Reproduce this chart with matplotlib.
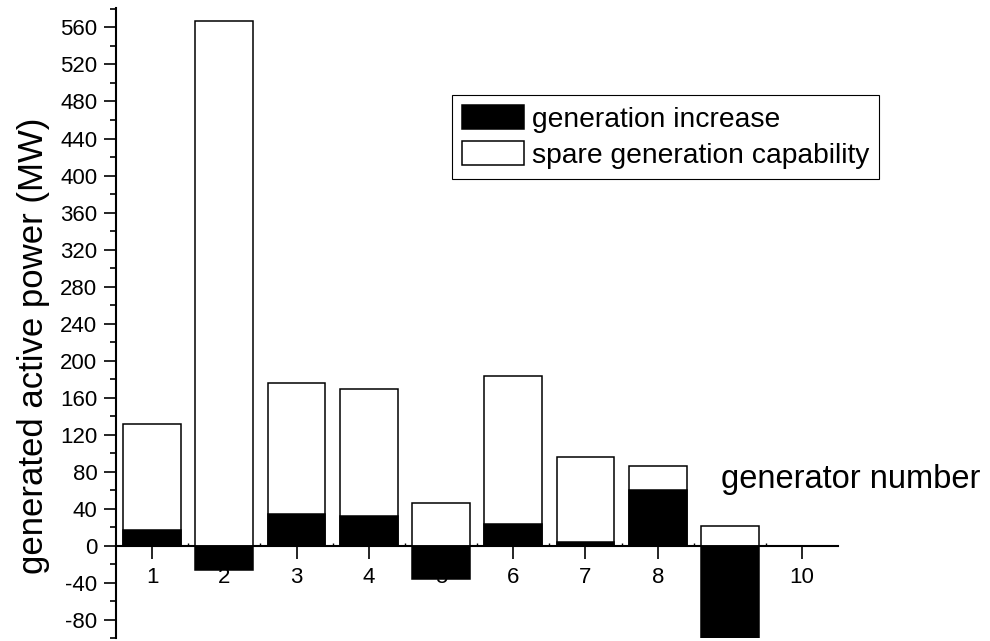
import matplotlib
matplotlib.use("Agg")
import matplotlib.pyplot as plt
from matplotlib.ticker import MultipleLocator, FixedLocator

plt.rcParams['font.family'] = ['Liberation Sans', 'DejaVu Sans']
plt.rcParams['axes.unicode_minus'] = False

generators = [1, 2, 3, 4, 5, 6, 7, 8, 9, 10]
spare_capability = [132, 567, 176, 169, 46, 183, 96, 86, 21, 0]
generation_increase = [17, -26, 34, 32, -36, 24, 4, 60, -115, 0]
y_ticks = list(range(-80, 561, 40))

fig = plt.figure(figsize=(9.9, 6.41), dpi=100)
ax = fig.add_axes([116 / 990, 2.7 / 641, 722.3 / 990, 630.3 / 641])

ax.bar(generators, spare_capability, width=0.8, color='white',
       edgecolor='black', linewidth=1.1, zorder=3,
       label='spare generation capability')
ax.bar(generators, generation_increase, width=0.8, color='black',
       edgecolor='black', linewidth=1.1, zorder=4,
       label='generation increase')

ax.set_xlim(0.5, 10.5)
ax.set_ylim(-100, 581)

for side in ('top', 'right'):
    ax.spines[side].set_visible(False)
ax.spines['bottom'].set_position(('data', 0))
ax.spines['bottom'].set_linewidth(1.5)
ax.spines['left'].set_linewidth(1.5)
ax.spines['bottom'].set_zorder(2)

ax.xaxis.set_major_locator(FixedLocator(generators))
ax.xaxis.set_minor_locator(FixedLocator([g + 0.5 for g in generators[:-1]]))
ax.yaxis.set_major_locator(FixedLocator(y_ticks))
ax.yaxis.set_minor_locator(MultipleLocator(20))

ax.tick_params(axis='x', which='major', direction='out', length=9, width=1.2,
               labelsize=16, pad=6)
ax.tick_params(axis='x', which='minor', direction='in', length=2, width=1.0)
ax.tick_params(axis='y', which='major', direction='out', length=8.4, width=1.2,
               labelsize=16, pad=5)
ax.tick_params(axis='y', which='minor', direction='out', length=4.3, width=1.2)

ax.set_ylabel('generated active power (MW)', fontsize=25)
ax.yaxis.set_label_coords(-0.092, 0.464)

ax.text(8.87, 71.5, 'generator number', fontsize=23.5, ha='left', va='center')

handles, labels = ax.get_legend_handles_labels()
leg = ax.legend(handles[::-1], labels[::-1], loc='upper left',
                bbox_to_anchor=(451.7 / 990, 1 - 95 / 641),
                bbox_transform=fig.transFigure, borderaxespad=0,
                fontsize=20.3, fancybox=False, framealpha=1, edgecolor='black',
                handlelength=2.2, handleheight=0.95, handletextpad=0.3,
                borderpad=0.35, labelspacing=0.3)
leg.get_frame().set_linewidth(0.8)
leg.set_zorder(10)

fig.savefig('out.png', dpi=100)
